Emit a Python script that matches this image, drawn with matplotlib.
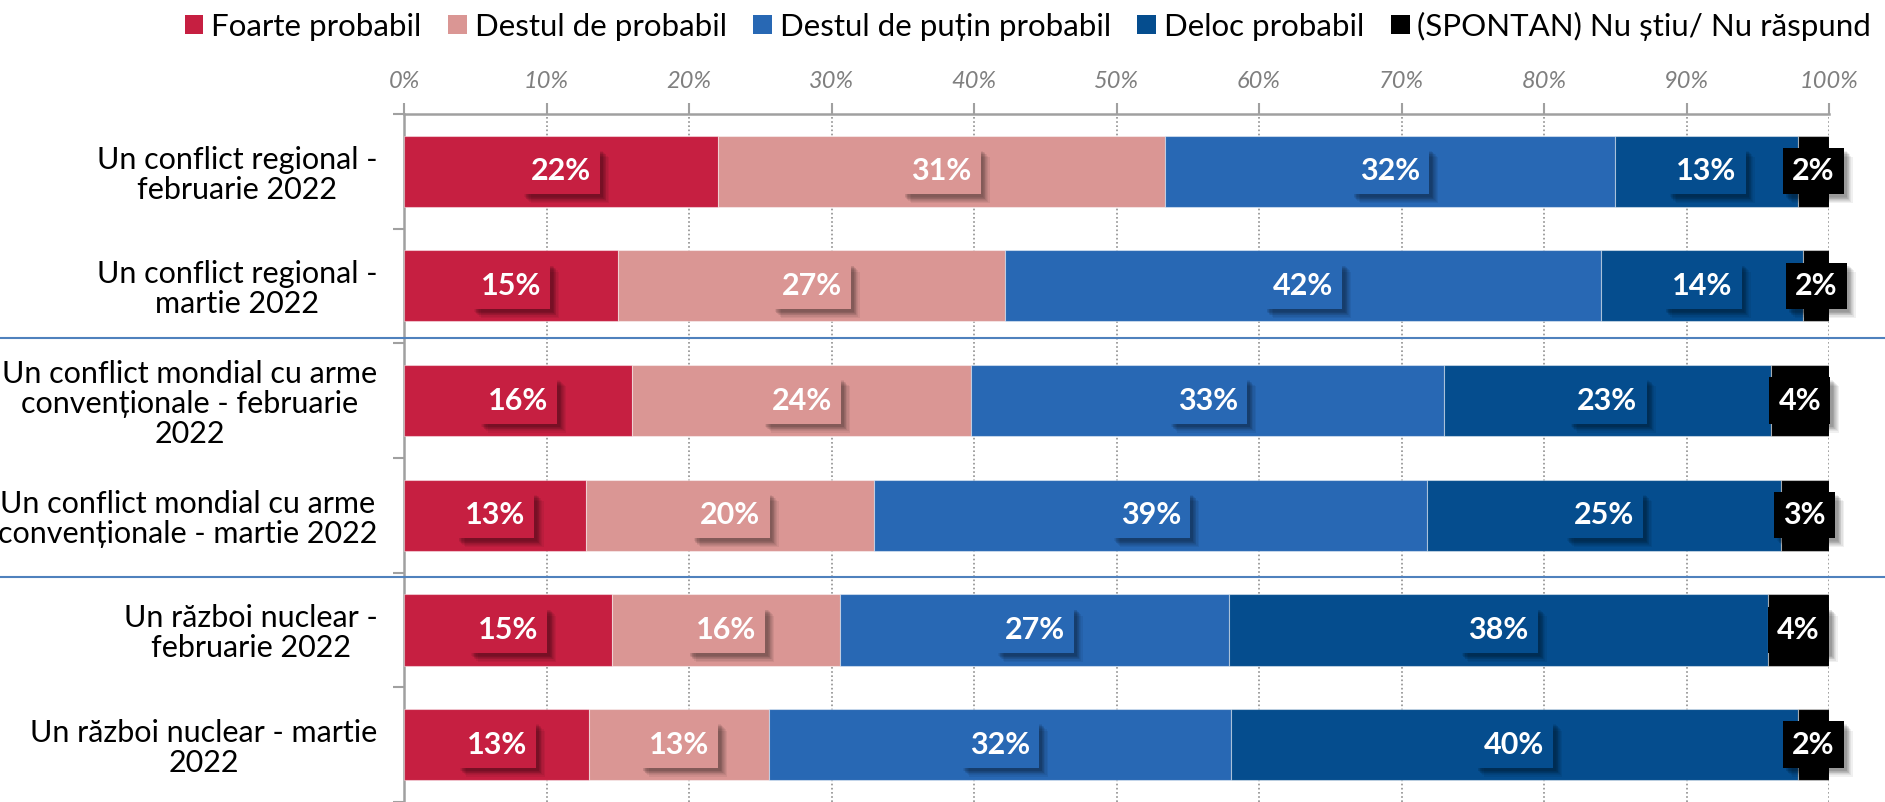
import matplotlib
matplotlib.use('Agg')
import matplotlib.pyplot as plt
import matplotlib.patheffects as pe
from matplotlib.lines import Line2D
from matplotlib.patches import Patch
from matplotlib import transforms
import numpy as np

categories = [
    'Un conflict regional -\nfebruarie 2022',
    'Un conflict regional -\nmartie 2022',
    'Un conflict mondial cu arme\nconvenționale - februarie\n2022',
    'Un conflict mondial cu arme\nconvenționale - martie 2022',
    'Un război nuclear -\nfebruarie 2022',
    'Un război nuclear - martie\n2022',
]
series_names = ['Foarte probabil', 'Destul de probabil', 'Destul de puțin probabil',
                'Deloc probabil', '(SPONTAN) Nu știu/ Nu răspund']
foarte = [22.0, 15.0, 16.0, 12.8, 14.6, 13.0]
destul = [31.4, 27.2, 23.8, 20.2, 16.0, 12.6]
putin = [31.6, 41.8, 33.2, 38.8, 27.3, 32.4]
deloc = [12.8, 14.2, 22.9, 24.8, 37.8, 39.8]
nu_stiu = [2.2, 1.8, 4.1, 3.4, 4.3, 2.2]
colors = ['#C61F41', '#DA9694', '#2868B4', '#054D8E', '#000000']

plt.rcParams['font.family'] = ['Lato', 'DejaVu Sans']

fig = plt.figure(figsize=(18.85, 8.02), dpi=100)
ax = fig.add_axes([404 / 1885, 0, (1829 - 404) / 1885, 1 - 113.9 / 802])

# soft drop shadow for the value boxes
shadow = [pe.SimplePatchShadow(offset=(o, -o), shadow_rgbFace='black', alpha=0.06)
          for o in (6.5, 5.5, 4.5, 4, 3.5, 3, 2.5, 2)]

y = np.arange(len(categories))
left = np.zeros(len(categories))
for vals, col, name in zip([foarte, destul, putin, deloc, nu_stiu], colors, series_names):
    vals = np.array(vals)
    ax.barh(y, vals, left=left, height=0.62, color=col, edgecolor=(1, 1, 1, 0.45),
            linewidth=0.8, zorder=3, label=name)
    for yi, l, v in zip(y, left, vals):
        t = ax.text(l + v / 2, yi, '{}%'.format(int(round(v))), ha='center', va='center',
                    color='white', fontsize=22, fontweight='bold', zorder=5,
                    bbox=dict(boxstyle='square,pad=0.3', fc=col, ec='none'))
        t.get_bbox_patch().set_path_effects(shadow + [pe.Normal()])
    left += vals

ax.set_xlim(0, 100)
ax.set_ylim(5.478, -0.5)
ax.xaxis.tick_top()
ax.set_xticks(np.arange(0, 101, 10))
ax.set_xticklabels(['{}%'.format(v) for v in range(0, 101, 10)], fontsize=17,
                   style='italic', color='#7F7F7F')
ax.tick_params(axis='x', length=8, width=1.5, color='#A0A0A0', pad=8)
ax.grid(axis='x', color='#909090', linestyle=(0, (1, 1.5)), linewidth=1.2, zorder=0)

ax.set_yticks(y)
ax.set_yticklabels(categories, fontsize=22, linespacing=1.08)
for lab in ax.get_yticklabels():
    lab.set_multialignment('center')
ax.set_yticks(np.arange(-0.5, 6, 1), minor=True)
ax.tick_params(axis='y', which='major', length=0, pad=19)
ax.tick_params(axis='y', which='minor', length=8, width=1.5, color='#A0A0A0')

for s in ['right', 'bottom']:
    ax.spines[s].set_visible(False)
for s in ['top', 'left']:
    ax.spines[s].set_color('#A0A0A0')
    ax.spines[s].set_linewidth(1.8)

# group separators across the whole width
tr = transforms.blended_transform_factory(fig.transFigure, ax.transData)
for yy in [1.453, 3.541]:
    fig.add_artist(Line2D([0, 1], [yy, yy], transform=tr, color='#4F81BD', lw=1.5, zorder=4))

handles = [Patch(facecolor=c) for c in colors]
fig.legend(handles, series_names, loc='center', bbox_to_anchor=(1028 / 1885, 1 - 26 / 802),
           ncol=5, frameon=False, fontsize=22.5, handlelength=0.6, handleheight=0.6,
           handletextpad=0.25, columnspacing=0.85)

plt.savefig('out.png', dpi=100)
